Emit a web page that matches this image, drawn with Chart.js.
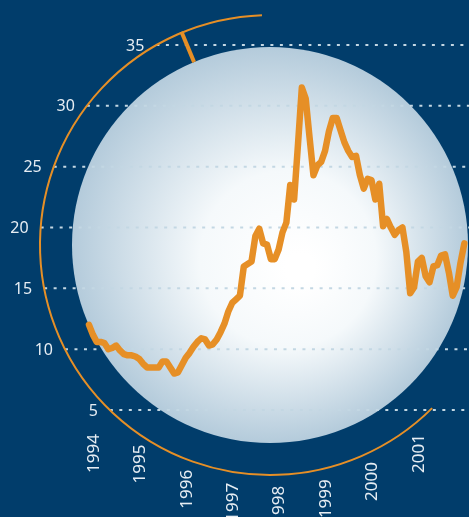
<!DOCTYPE html>
<html>
<head>
<meta charset="utf-8">
<script src="https://cdn.jsdelivr.net/npm/chart.js@4"></script>
<style>
  html, body { margin: 0; padding: 0; background: #013d6b; }
  #caixa { width: 469px; height: 517px; }
</style>
</head>
<body>
<div id="caixa"><canvas id="grafico" width="469" height="517"></canvas></div>
<script>
// dados mensais, de dez/1993 ate jan/2002
var anoInicio = 1993;
var mesInicio = 12;
var valores = [
  12.0, 11.2, 10.6, 10.6, 10.5, 10.0, 10.1, 10.3, 9.9, 9.6, 9.5, 9.5,
  9.4, 9.2, 8.8, 8.5, 8.5, 8.5, 8.5, 9.0, 9.0, 8.5, 8.0, 8.1,
  8.7, 9.3, 9.7, 10.2, 10.6, 10.9, 10.8, 10.3, 10.4, 10.8, 11.4, 12.1,
  13.1, 13.8, 14.1, 14.4, 16.8, 17.0, 17.2, 19.3, 19.9, 18.7, 18.6, 17.4,
  17.4, 18.2, 19.6, 20.4, 23.5, 22.3, 26.8, 31.5, 30.6, 27.4, 24.3, 25.1,
  25.4, 26.3, 27.9, 29.0, 29.0, 28.0, 27.0, 26.3, 25.8, 25.9, 24.3, 23.2,
  24.0, 23.9, 22.3, 23.6, 20.1, 20.7, 20.0, 19.4, 19.8, 20.0, 18.0, 14.6,
  15.1, 17.2, 17.5, 16.0, 15.5, 16.8, 16.9, 17.7, 17.8, 16.3, 14.4, 15.1,
  17.1, 18.7
];
var anos = ['1994', '1995', '1996', '1997', '1998', '1999', '2000', '2001'];
var ticksY = [5, 10, 15, 20, 25, 30, 35];

var laranja = "#e68f26";
var corGrade = "#c3d7e3";
var corTexto = "#e6edf3";

// circulo e arco (pixels)
var cx = 270, cy = 245, raio = 198, raioArco = 230;

var pontos = [];
for (var i = 0; i < valores.length; i++) {
  var m = mesInicio - 1 + i;
  pontos.push({ x: anoInicio + Math.floor(m / 12) + (m % 12) / 12, y: valores[i] });
}

var decoracao = {
  id: "decoracao",
  beforeDraw: function (chart) {
    var ctx = chart.ctx;
    ctx.save();
    ctx.fillStyle = "#013d6b";
    ctx.fillRect(0, 0, chart.width, chart.height);
    ctx.restore();
  },
  beforeDatasetsDraw: function (chart) {
    var ctx = chart.ctx;
    var sx = chart.scales.x, sy = chart.scales.y;
    ctx.save();

    // bola com degrade
    var g = ctx.createRadialGradient(300, 268, 15, cx, cy, raio);
    g.addColorStop(0, "#ffffff");
    g.addColorStop(0.4, "#f5f9fb");
    g.addColorStop(1, "#b4cbdb");
    ctx.fillStyle = g;
    ctx.beginPath();
    ctx.arc(cx, cy, raio, 0, Math.PI * 2);
    ctx.fill();

    // linhas de grade e rotulos do eixo y
    ctx.font = "16px 'Noto Sans'";
    ctx.textAlign = "right";
    ctx.textBaseline = "middle";
    for (var i = 0; i < ticksY.length; i++) {
      var y = sy.getPixelForValue(ticksY[i]);
      var dy = y - cy;
      var x0 = cx - Math.sqrt(raioArco * raioArco - dy * dy);
      ctx.strokeStyle = corGrade;
      ctx.lineWidth = 2;
      ctx.setLineDash([3, 6.5]);
      ctx.beginPath();
      ctx.moveTo(x0, y);
      ctx.lineTo(chart.width, y);
      ctx.stroke();
      ctx.fillStyle = corTexto;
      ctx.fillText(String(ticksY[i]), x0 - 12, y + 1);
    }
    ctx.setLineDash([]);

    // arco laranja
    ctx.strokeStyle = laranja;
    ctx.lineWidth = 2;
    ctx.beginPath();
    ctx.arc(cx, cy, raioArco, Math.atan2(16 - cy, 262 - cx), Math.atan2(407 - cy, 431 - cx), true);
    ctx.stroke();

    // marcador no topo
    var ang = Math.atan2(-212, -88);
    ctx.lineWidth = 4;
    ctx.beginPath();
    ctx.moveTo(cx + raio * Math.cos(ang), cy + raio * Math.sin(ang));
    ctx.lineTo(cx + (raioArco + 1) * Math.cos(ang), cy + (raioArco + 1) * Math.sin(ang));
    ctx.stroke();

    // rotulos dos anos, seguindo a curva
    ctx.font = "17px 'Noto Sans'";
    ctx.fillStyle = corTexto;
    ctx.textAlign = "right";
    ctx.textBaseline = "middle";
    for (var j = 0; j < anos.length; j++) {
      var x = sx.getPixelForValue(Number(anos[j]));
      var dx = x - cx;
      var topo = 259 + Math.sqrt(Math.max(0, 227 * 227 - dx * dx));
      topo = Math.max(topo, 434);
      ctx.save();
      ctx.translate(x + 1, topo);
      ctx.rotate(-Math.PI / 2);
      ctx.fillText(anos[j], 0, 0);
      ctx.restore();
    }
    ctx.restore();
  }
};

var config = {
  type: "line",
  data: {
    datasets: [{
      data: pontos,
      borderColor: laranja,
      borderWidth: 6.5,
      borderJoinStyle: "round",
      borderCapStyle: "round",
      pointRadius: 0,
      tension: 0,
      fill: false
    }]
  },
  options: {
    responsive: false,
    animation: false,
    layout: { padding: 0 },
    plugins: { legend: { display: false }, tooltip: { enabled: false } },
    scales: {
      x: { type: "linear", display: false, min: 1992, max: 2002.1 },
      y: { display: false, min: -3.79, max: 38.7 }
    }
  },
  plugins: [decoracao]
};

var meuGrafico = new Chart(document.getElementById("grafico"), config);
</script>
</body>
</html>
